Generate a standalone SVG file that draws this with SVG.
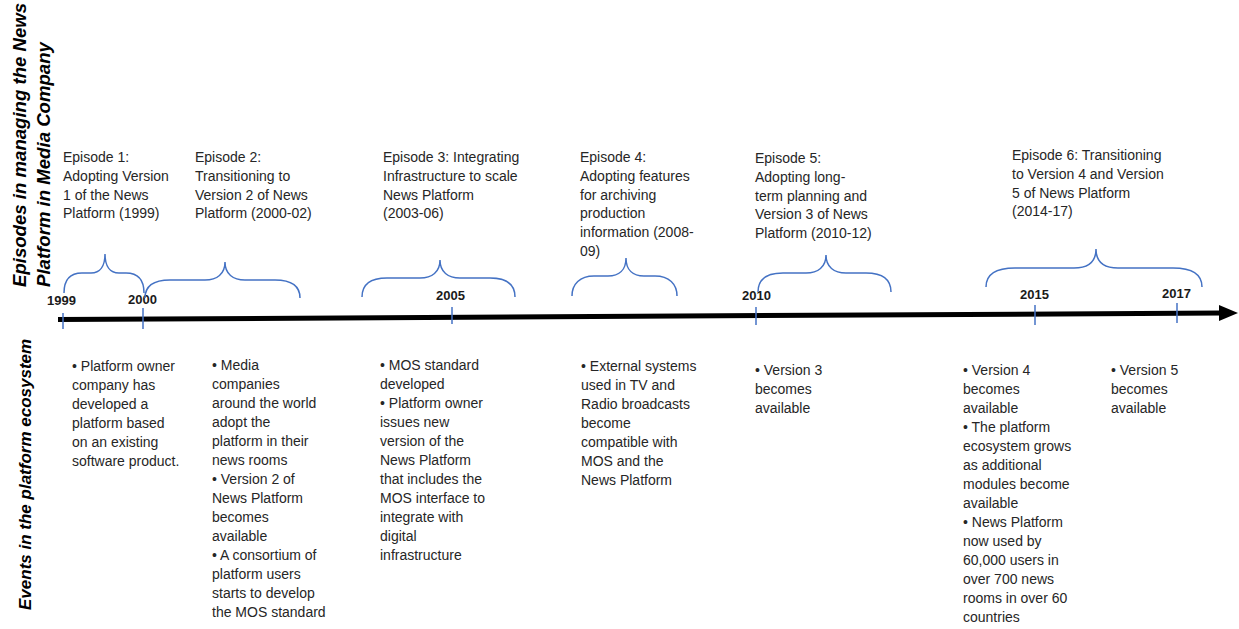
<svg xmlns="http://www.w3.org/2000/svg" width="1239" height="629" viewBox="0 0 1239 629">
<style>
.t{font-family:"Liberation Sans",Arial,sans-serif;font-size:14px;fill:#262626}
.yr{font-family:"Liberation Sans",Arial,sans-serif;font-size:13px;font-weight:bold;fill:#1a1a1a}
.side{font-family:"Liberation Sans",Arial,sans-serif;font-size:17px;font-weight:bold;font-style:italic;fill:#000}
.side2{font-size:18.6px}
.br{fill:none;stroke:#4472C4;stroke-width:1.5}
.tk{stroke:#4472C4;stroke-width:1.5}
</style>
<rect width="1239" height="629" fill="#fff"/>

<g id="side-labels">
<text class="side side2" transform="translate(26,287) rotate(-90)">Episodes in managing the News</text>
<text class="side side2" transform="translate(50,287) rotate(-90)">Platform in Media Company</text>
<text class="side" transform="translate(31,610) rotate(-90)">Events in the platform ecosystem</text>
</g>

<g id="connectors">
<path d="M58,319.5 L1222,313" stroke="#000" stroke-width="5" fill="none"/>
<path d="M1219,305 L1238,313 L1219,321 Z" fill="#000"/>
</g>

<g id="ticks">
<line class="tk" x1="63" y1="313" x2="63" y2="329"/>
<line class="tk" x1="143" y1="308" x2="143" y2="329"/>
<line class="tk" x1="452" y1="307" x2="452" y2="324"/>
<line class="tk" x1="756" y1="307" x2="756" y2="325"/>
<line class="tk" x1="1035" y1="305" x2="1035" y2="325"/>
<line class="tk" x1="1177" y1="303" x2="1177" y2="323"/>
</g>

<g id="years">
<text class="yr" x="47" y="305">1999</text>
<text class="yr" x="128" y="304">2000</text>
<text class="yr" x="436" y="300">2005</text>
<text class="yr" x="742" y="300">2010</text>
<text class="yr" x="1020" y="299">2015</text>
<text class="yr" x="1162" y="298">2017</text>
</g>

<g id="brace1"><path class="br" d="M64,293 C64,279 70,273 82,273 L91,273 C100,273 105,266 105,254 C105,266 110,273 119,273 L126,273 C138,273 144,279 144,293"/></g>
<g id="brace2"><path class="br" d="M145,298 C145,286 153,280 170,280 L205,280 C217,280 225,274 225,262 C225,274 233,280 245,280 L275,280 C292,280 300,286 300,298"/></g>
<g id="brace3"><path class="br" d="M362,297 C362,285 370,278 387,278 L420,278 C432,278 440,272 440,260 C440,272 448,278 460,278 L490,278 C507,278 515,285 515,297"/></g>
<g id="brace4"><path class="br" d="M572,296 C572,284 580,276 594,276 L608,276 C619,276 626,270 626,258 C626,270 633,276 644,276 L655,276 C669,276 677,284 677,296"/></g>
<g id="brace5"><path class="br" d="M758,292 C758,280 766,273 783,273 L806,273 C818,273 826,267 826,255 C826,267 834,273 846,273 L866,273 C883,273 891,280 891,292"/></g>
<g id="brace6"><path class="br" d="M986,287 C986,275 995,268 1015,268 L1074,268 C1088,268 1096,262 1096,249 C1096,262 1104,268 1118,268 L1173,268 C1193,268 1202,275 1202,287"/></g>

<g id="episode1"><text class="t" y="162"><tspan x="63">Episode 1:</tspan><tspan x="63" dy="18.8">Adopting Version</tspan><tspan x="63" dy="18.8">1 of the News</tspan><tspan x="63" dy="18.8">Platform (1999)</tspan></text></g>
<g id="episode2"><text class="t" y="162"><tspan x="195">Episode 2:</tspan><tspan x="195" dy="18.8">Transitioning to</tspan><tspan x="195" dy="18.8">Version 2 of News</tspan><tspan x="195" dy="18.8">Platform (2000-02)</tspan></text></g>
<g id="episode3"><text class="t" y="162"><tspan x="383">Episode 3: Integrating</tspan><tspan x="383" dy="18.8">Infrastructure to scale</tspan><tspan x="383" dy="18.8">News Platform</tspan><tspan x="383" dy="18.8">(2003-06)</tspan></text></g>
<g id="episode4"><text class="t" y="162"><tspan x="580">Episode 4:</tspan><tspan x="580" dy="18.8">Adopting features</tspan><tspan x="580" dy="18.8">for archiving</tspan><tspan x="580" dy="18.8">production</tspan><tspan x="580" dy="18.8">information (2008-</tspan><tspan x="580" dy="18.8">09)</tspan></text></g>
<g id="episode5"><text class="t" y="163"><tspan x="755">Episode 5:</tspan><tspan x="755" dy="18.8">Adopting long-</tspan><tspan x="755" dy="18.8">term planning and</tspan><tspan x="755" dy="18.8">Version 3 of News</tspan><tspan x="755" dy="18.8">Platform (2010-12)</tspan></text></g>
<g id="episode6"><text class="t" y="160"><tspan x="1012">Episode 6: Transitioning</tspan><tspan x="1012" dy="18.8">to Version 4 and Version</tspan><tspan x="1012" dy="18.8">5 of News Platform</tspan><tspan x="1012" dy="18.8">(2014-17)</tspan></text></g>

<g id="events1"><text class="t" y="371"><tspan x="72">• Platform owner</tspan><tspan x="72" dy="19">company has</tspan><tspan x="72" dy="19">developed a</tspan><tspan x="72" dy="19">platform based</tspan><tspan x="72" dy="19">on an existing</tspan><tspan x="72" dy="19">software product.</tspan></text></g>
<g id="events2"><text class="t" y="370"><tspan x="212">• Media</tspan><tspan x="212" dy="19">companies</tspan><tspan x="212" dy="19">around the world</tspan><tspan x="212" dy="19">adopt the</tspan><tspan x="212" dy="19">platform in their</tspan><tspan x="212" dy="19">news rooms</tspan><tspan x="212" dy="19">• Version 2 of</tspan><tspan x="212" dy="19">News Platform</tspan><tspan x="212" dy="19">becomes</tspan><tspan x="212" dy="19">available</tspan><tspan x="212" dy="19">• A consortium of</tspan><tspan x="212" dy="19">platform users</tspan><tspan x="212" dy="19">starts to develop</tspan><tspan x="212" dy="19">the MOS standard</tspan></text></g>
<g id="events3"><text class="t" y="370"><tspan x="380">• MOS standard</tspan><tspan x="380" dy="19">developed</tspan><tspan x="380" dy="19">• Platform owner</tspan><tspan x="380" dy="19">issues new</tspan><tspan x="380" dy="19">version of the</tspan><tspan x="380" dy="19">News Platform</tspan><tspan x="380" dy="19">that includes the</tspan><tspan x="380" dy="19">MOS interface to</tspan><tspan x="380" dy="19">integrate with</tspan><tspan x="380" dy="19">digital</tspan><tspan x="380" dy="19">infrastructure</tspan></text></g>
<g id="events4"><text class="t" y="371"><tspan x="581">• External systems</tspan><tspan x="581" dy="19">used in TV and</tspan><tspan x="581" dy="19">Radio broadcasts</tspan><tspan x="581" dy="19">become</tspan><tspan x="581" dy="19">compatible with</tspan><tspan x="581" dy="19">MOS and the</tspan><tspan x="581" dy="19">News Platform</tspan></text></g>
<g id="events5"><text class="t" y="375"><tspan x="755">• Version 3</tspan><tspan x="755" dy="19">becomes</tspan><tspan x="755" dy="19">available</tspan></text></g>
<g id="events6"><text class="t" y="375"><tspan x="963">• Version 4</tspan><tspan x="963" dy="19">becomes</tspan><tspan x="963" dy="19">available</tspan><tspan x="963" dy="19">• The platform</tspan><tspan x="963" dy="19">ecosystem grows</tspan><tspan x="963" dy="19">as additional</tspan><tspan x="963" dy="19">modules become</tspan><tspan x="963" dy="19">available</tspan><tspan x="963" dy="19">• News Platform</tspan><tspan x="963" dy="19">now used by</tspan><tspan x="963" dy="19">60,000 users in</tspan><tspan x="963" dy="19">over 700 news</tspan><tspan x="963" dy="19">rooms in over 60</tspan><tspan x="963" dy="19">countries</tspan></text></g>
<g id="events7"><text class="t" y="375"><tspan x="1111">• Version 5</tspan><tspan x="1111" dy="19">becomes</tspan><tspan x="1111" dy="19">available</tspan></text></g>
</svg>
